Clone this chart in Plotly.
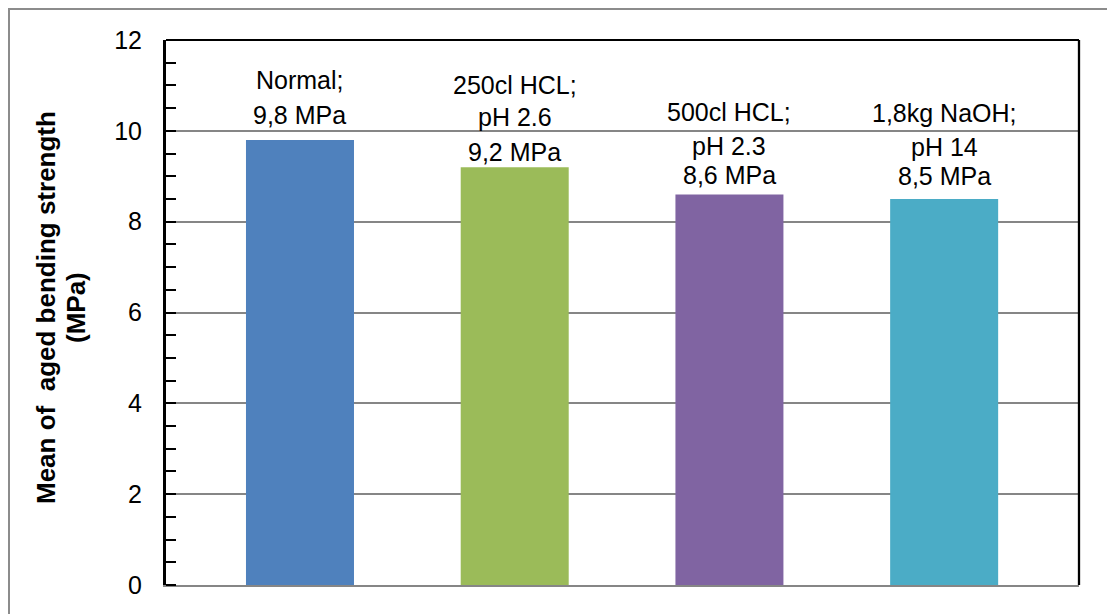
import plotly.graph_objects as go

# Mean aged bending strength per exposure condition
categories = ["Normal", "250cl HCL; pH 2.6", "500cl HCL; pH 2.3", "1,8kg NaOH; pH 14"]
strength_mpa = [9.8, 9.2, 8.6, 8.5]
label_lines = [
    ["Normal;", "9,8 MPa"],
    ["250cl HCL;", "pH 2.6", "9,2 MPa"],
    ["500cl HCL;", "pH 2.3", "8,6 MPa"],
    ["1,8kg NaOH;", "pH 14", "8,5 MPa"],
]
y_ticks = [0, 2, 4, 6, 8, 10, 12]

# styling
bar_colors = ["#4F81BD", "#9BBB59", "#8064A2", "#4BACC6"]
# pixel offsets of each label line above its bar top
line_shifts = [
    [60, 25],
    [82, 50, 15],
    [82, 48, 19],
    [86, 52, 23],
]
FONT = "Liberation Sans, Arial, Helvetica, sans-serif"

W, H = 1107, 614
ML, MR, MT, MB = 166, 28, 40, 29
PW, PH = W - ML - MR, H - MT - MB


def px_x(px):
    return (px - ML) / PW


def px_y(py):
    return (H - MB - py) / PH


fig = go.Figure(
    go.Bar(
        x=categories,
        y=strength_mpa,
        marker=dict(color=bar_colors, line=dict(width=0)),
        width=0.503,
        hoverinfo="x+y",
    )
)

annotations = []
for cat, val, lines, shifts in zip(categories, strength_mpa, label_lines, line_shifts):
    for text, dy in zip(lines, shifts):
        annotations.append(
            dict(
                x=cat, y=val, xref="x", yref="y",
                text=text, showarrow=False,
                xanchor="center", yanchor="middle", yshift=dy,
                font=dict(family=FONT, size=25, color="black"),
            )
        )

# rotated y-axis title, two lines
for text, cx in [("Mean of \u00a0aged bending strength", 46), ("(MPa)", 76)]:
    annotations.append(
        dict(
            x=px_x(cx), y=px_y(308), xref="paper", yref="paper",
            text=f"<b>{text}</b>", showarrow=False, textangle=-90,
            xanchor="center", yanchor="middle",
            font=dict(family=FONT, size=26, color="black"),
        )
    )

shapes = [
    # outer chart frame
    dict(type="rect", xref="paper", yref="paper",
         x0=px_x(9), y0=px_y(9), x1=px_x(1140), y1=px_y(650),
         line=dict(color="#8c8c8c", width=2), fillcolor="rgba(0,0,0,0)", layer="below"),
    # top and right plot border
    dict(type="line", xref="paper", yref="paper", x0=0, y0=1, x1=1, y1=1,
         line=dict(color="black", width=2)),
    dict(type="line", xref="paper", yref="paper", x0=1, y0=0, x1=1, y1=1,
         line=dict(color="black", width=2.3)),
]

fig.update_layout(
    width=W, height=H,
    margin=dict(l=ML, r=MR, t=MT, b=MB, pad=0),
    paper_bgcolor="white", plot_bgcolor="white",
    showlegend=False,
    font=dict(family=FONT, color="black"),
    annotations=annotations,
    shapes=shapes,
    bargap=0.5,
)

fig.update_xaxes(
    type="category",
    range=[-0.624, 3.628],
    showticklabels=False, ticks="",
    showgrid=False, zeroline=False,
    showline=True, linecolor="#868686", linewidth=2,
)

fig.update_yaxes(
    range=[0, 12],
    tickvals=y_ticks, ticktext=[str(t) for t in y_ticks],
    tickfont=dict(family=FONT, size=25, color="black"),
    ticks="", ticklabelstandoff=16,
    showgrid=True, gridcolor="#868686", gridwidth=1.5,
    zeroline=False,
    showline=True, linecolor="black", linewidth=3,
    minor=dict(dtick=0.5, ticks="inside", ticklen=10, tickwidth=2,
               tickcolor="black", showgrid=False),
)

fig.write_html("out.html")
